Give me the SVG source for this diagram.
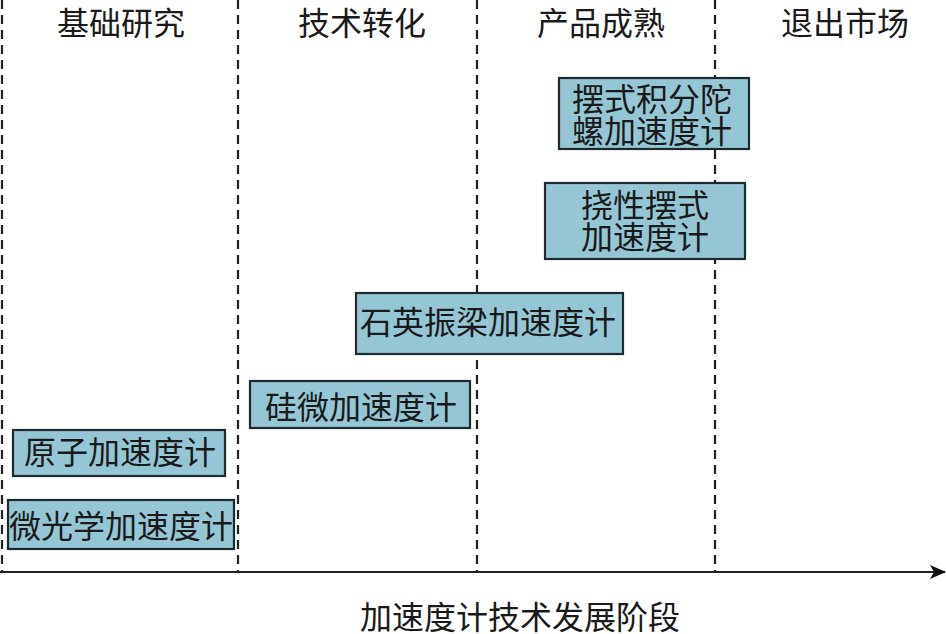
<svg xmlns="http://www.w3.org/2000/svg" width="946" height="634" viewBox="0 0 946 634">
<defs>
<style>
text{font-family:"Noto Sans CJK SC","Noto Sans CJK JP",sans-serif;font-size:32px;fill:#1a1a1a;text-anchor:middle}
.box{fill:#95c6d3;stroke:#1e2a2e;stroke-width:2.2}
.div{stroke:#222;stroke-width:2.2;stroke-dasharray:9 6;fill:none}
.axis{stroke:#222;stroke-width:2.2;fill:none}
</style>
<marker id="arr" viewBox="0 0 16 14" refX="15" refY="7" markerWidth="16" markerHeight="14" markerUnits="userSpaceOnUse" orient="auto">
<path d="M0,0 L16,7 L0,14 L4,7 Z" fill="#111"/>
</marker>
</defs>
<rect width="946" height="634" fill="#fff"/>
<g id="connectors">
<line class="div" x1="2" y1="0" x2="2" y2="572"/>
<line class="div" x1="238" y1="0" x2="238" y2="572"/>
<line class="div" x1="477" y1="0" x2="477" y2="572"/>
<line class="div" x1="715" y1="0" x2="715" y2="572"/>
<line class="axis" x1="0" y1="572" x2="945" y2="572" marker-end="url(#arr)"/>
</g>
<g id="headers">
<text x="121" y="35">基础研究</text>
<text x="362" y="35">技术转化</text>
<text x="601" y="35">产品成熟</text>
<text x="845" y="35">退出市场</text>
</g>
<g id="n1">
<rect class="box" x="559" y="78" width="190" height="71"/>
<text x="652" y="111">摆式积分陀</text>
<text x="652" y="143">螺加速度计</text>
</g>
<g id="n2">
<rect class="box" x="545" y="183" width="200" height="76"/>
<text x="645" y="217">挠性摆式</text>
<text x="645" y="249">加速度计</text>
</g>
<g id="n3">
<rect class="box" x="356" y="293" width="267" height="61"/>
<text x="488" y="334">石英振梁加速度计</text>
</g>
<g id="n4">
<rect class="box" x="250" y="381" width="220" height="47"/>
<text x="361" y="419">硅微加速度计</text>
</g>
<g id="n5">
<rect class="box" x="13" y="430" width="212" height="46"/>
<text x="120" y="464">原子加速度计</text>
</g>
<g id="n6">
<rect class="box" x="8" y="500" width="226" height="49"/>
<text x="121" y="538">微光学加速度计</text>
</g>
<g id="xlabel">
<text x="520" y="629">加速度计技术发展阶段</text>
</g>
</svg>
